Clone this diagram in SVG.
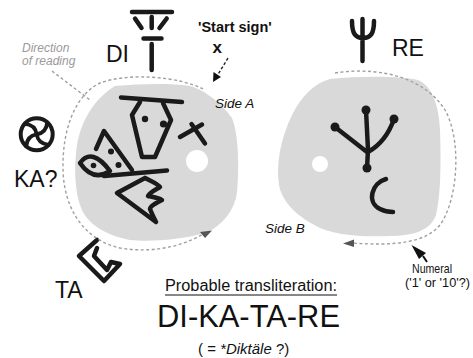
<svg xmlns="http://www.w3.org/2000/svg" width="473" height="358" viewBox="0 0 473 358">
  <style>
    .lbl { font-family: "Liberation Sans", Arial, sans-serif; fill: #111; }
    .big { font-size: 23px; }
    .note { font-size: 12px; font-style: italic; fill: #9a9a9a; }
    .side { font-size: 13.5px; font-style: italic; }
    .blob { fill: #d9d9d9; }
    .hole { fill: #ffffff; }
    .ink { fill: none; stroke: #1a1a1a; stroke-width: 4.5; stroke-linecap: round; stroke-linejoin: round; }
    .dot { fill: #1a1a1a; }
    .path { fill: none; stroke: #a0a0a0; stroke-width: 1.4; stroke-dasharray: 3 2.5; }
    .head { fill: #555; }
  </style>

  <rect width="473" height="358" fill="#ffffff"/>

  <!-- Side A disc -->
  <g id="side-a">
    <path class="blob" d="M115,86 C140,84 170,83 190,86 C205,90 222,104 232,118 C239,135 239,170 237,192 C235,210 222,226 205,233 C180,240 150,242 130,240 C110,236 92,228 83,212 C74,195 74,165 77,145 C80,125 92,100 115,86 Z"/>
    <circle class="hole" cx="197" cy="161" r="11"/>
    <!-- DI sign on the disc -->
    <path class="ink" d="M121,97.5 L182,102"/>
    <path class="ink" d="M140,102 L132,115 L142,157 L155,157 L171,120 L163,103"/>
    <circle class="dot" cx="145" cy="119" r="3.2"/>
    <circle class="dot" cx="163.5" cy="124" r="3.6"/>
    <!-- start sign -->
    <path class="ink" d="M180,137 L202,124.5 M191.5,124 L205,143.5"/>
    <!-- KA sign on the disc -->
    <path class="ink" d="M96,149 L104,131 L132,170"/>
    <circle class="dot" cx="111" cy="151.5" r="3"/>
    <circle class="dot" cx="118.5" cy="165" r="3"/>
    <path class="ink" d="M80,163 Q92,147 110,171 Q93,182 80,163 Z"/>
    <circle class="dot" cx="93.5" cy="165.5" r="2.8"/>
    <!-- TA sign on the disc -->
    <path class="ink" d="M104,176 L167,170.5"/>
    <path class="ink" d="M145,178 L117,193 L156,222 M145,178 C151,181 158,184 160,187 C155,190 149,193 148,196 C153,197 159,198 162,200 C156,203 150,206 150,209 C152,214 154,218 156,222"/>
  </g>

  <!-- Side B disc -->
  <g id="side-b">
    <path class="blob" d="M330,79 C360,76 400,76 418,80 C432,86 439,105 440,130 C441,160 441,195 436,215 C430,232 410,236 390,236 C365,237 340,236 320,228 C300,218 283,205 279,185 C276,165 280,140 292,115 C302,95 315,83 330,79 Z"/>
    <circle class="hole" cx="320" cy="164" r="8"/>
    <!-- RE sign -->
    <path class="ink" d="M366,110 L368,150 L367,168 M335,127 L367,152 M394,119 Q386,142 368,152" stroke-width="5.5"/>
    <circle class="dot" cx="366" cy="110" r="4.5"/>
    <circle class="dot" cx="335" cy="127" r="4.5"/>
    <circle class="dot" cx="394" cy="119" r="4.5"/>
    <circle class="dot" cx="367" cy="168" r="4.5"/>
    <!-- numeral -->
    <path class="ink" d="M386,179 C372,183 366,202 380,209 C384,211 389,212 393,212" stroke-width="6.5"/>
  </g>

  <!-- Reference signs beside the discs -->
  <g id="sign-di">
    <path class="ink" d="M132,12 L172,12 M135,18.5 L141.5,28 M151.7,17 L151.7,28 M166.7,18.5 L159.5,28 M143.5,38.5 L161.5,38.5 M151.7,44 L151.7,70" stroke-width="4" stroke-linecap="butt"/>
    <text class="lbl big" x="106" y="62">DI</text>
  </g>
  <g id="sign-re">
    <path class="ink" d="M352,21 C352,33 355,38 363,38 C371,38 374,33 374,21 M362.5,19 L362.5,61" stroke-width="4.5"/>
    <text class="lbl big" x="392" y="56">RE</text>
  </g>
  <g id="sign-ka">
    <circle cx="36.7" cy="134.3" r="16" fill="none" stroke="#1a1a1a" stroke-width="4"/>
    <g transform="translate(36.7,134.3)" fill="none" stroke="#1a1a1a" stroke-width="3.8" stroke-linecap="round">
      <path id="arm" d="M0,0 C-1,-7 -6,-10 -12,-10.5"/>
      <use href="#arm" transform="rotate(90)"/>
      <use href="#arm" transform="rotate(180)"/>
      <use href="#arm" transform="rotate(270)"/>
    </g>
    <text class="lbl big" x="14" y="187">KA?</text>
  </g>
  <g id="sign-ta">
    <path class="ink" d="M97,240 L79,256 L104,281 L120,264 L111,262 L107,270 L94,256 L97,248"/>
    <text class="lbl big" x="55" y="298">TA</text>
  </g>

  <!-- Reading direction arcs and pointers -->
  <g id="connectors">
    <path class="path" d="M203,89 C180,77 130,72 100,83 C75,95 62,130 63,170 C64,210 85,240 120,248 C150,253 180,248 205,233"/>
    <polygon class="head" points="212,230.5 200,232 205,238"/>
    <path class="path" d="M52,71 L90,100"/>
    <path class="path" d="M335,73 C380,66 425,78 445,110 C462,140 458,200 440,225 C425,243 395,246 352,243"/>
    <polygon class="head" points="343,243.5 354,239.5 354,247"/>
    <!-- start sign pointer -->
    <path d="M228,58 L217,76" fill="none" stroke="#222" stroke-width="1.4" stroke-dasharray="3 2"/>
    <polygon points="213,82 213.5,72 221,77" fill="#111"/>
    <!-- numeral pointer -->
    <path d="M423,256 L427,262" stroke="#111" stroke-width="2"/>
    <polygon points="411.5,245 419,259 426,253" fill="#111"/>
  </g>

  <!-- Labels -->
  <g id="labels">
    <text class="lbl note" x="22" y="52">Direction</text>
    <text class="lbl note" x="22" y="64.5">of reading</text>
    <text class="lbl" x="198" y="32" font-size="14.5" font-weight="bold">'Start sign'</text>
    <text class="lbl" x="212.5" y="53" font-size="17" font-weight="bold">x</text>
    <text class="lbl side" x="215" y="108">Side A</text>
    <text class="lbl side" x="265" y="233">Side B</text>
    <text class="lbl" x="412" y="273" font-size="13" textLength="40" lengthAdjust="spacingAndGlyphs">Numeral</text>
    <text class="lbl" x="405" y="287" font-size="13" textLength="65" lengthAdjust="spacingAndGlyphs">('1' or '10'?)</text>
    <text class="lbl" x="165" y="291" font-size="16" textLength="172" lengthAdjust="spacingAndGlyphs">Probable transliteration:</text>
    <path d="M165,295 L337,295" stroke="#111" stroke-width="1.2"/>
    <text class="lbl" x="157" y="327" font-size="32" textLength="183" lengthAdjust="spacingAndGlyphs">DI-KA-TA-RE</text>
    <text class="lbl" x="198" y="354" font-size="15">( = <tspan font-style="italic">*Diktäle</tspan> ?)</text>
  </g>
</svg>
